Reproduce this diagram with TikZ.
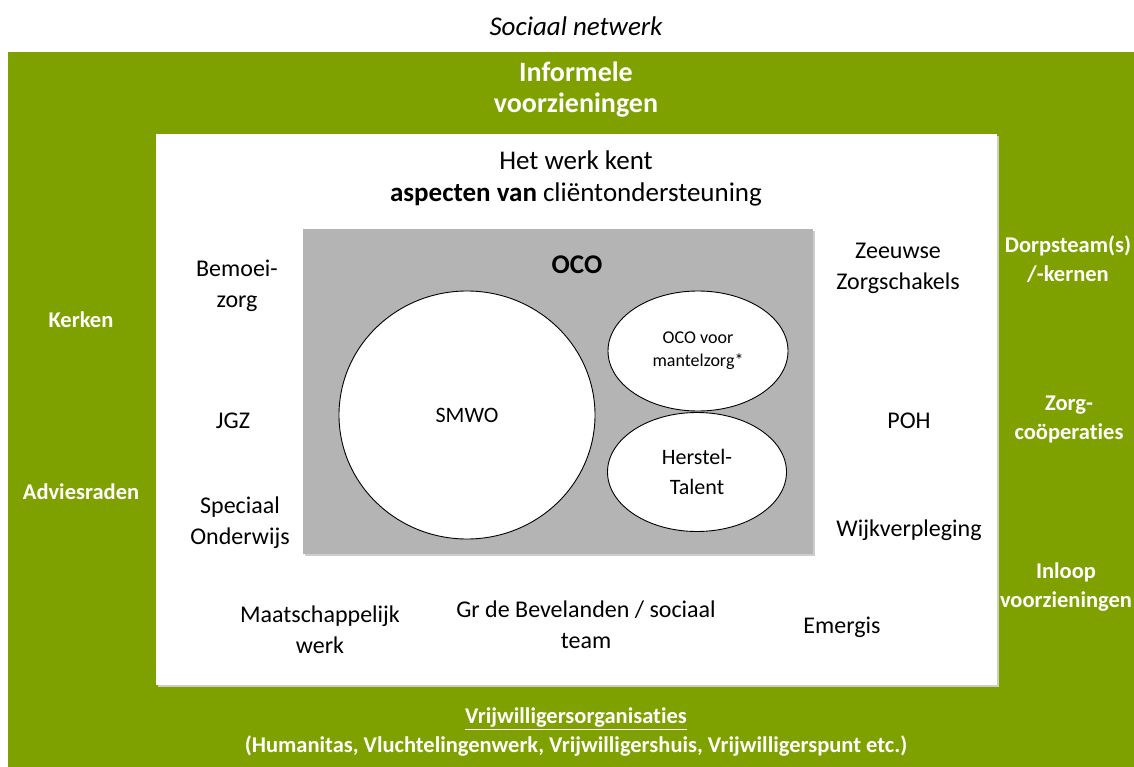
\documentclass[tikz,border=0pt]{standalone}
\usepackage{fontspec}
\setmainfont[Ligatures=NoCommon]{Carlito}
\usetikzlibrary{shapes.geometric}
\definecolor{grn}{RGB}{127,161,0}
\definecolor{gry}{RGB}{180,180,180}
\definecolor{shd}{RGB}{205,205,205}
\begin{document}
\begin{tikzpicture}[x=1pt,y=-1pt,
  lbl/.style={font=\fontsize{24}{31}\selectfont, align=center, inner sep=0pt},
  big/.style={font=\fontsize{27}{32}\selectfont, align=center, inner sep=0pt},
  glbl/.style={font=\bfseries\fontsize{22.5}{29}\selectfont, text=white, align=center, inner sep=0pt},
  bub/.style={ellipse, draw=black, line width=0.9pt, fill=white, inner sep=0pt}]
\useasboundingbox (0,0) rectangle (1134,767);
\begin{scope}
  \clip (0,0) rectangle (1134,767);
  \fill[grn] (8,52) rectangle (1150,780);
  % white inner box with faint shadow
  \fill[shd] (158,136) rectangle (999,687);
  \fill[white] (156,134) rectangle (997,685);
  % gray OCO box
  \fill[shd] (305,231) rectangle (815,556);
  \fill[gry] (303,229) rectangle (813,554);

  \node[bub, minimum width=256pt, minimum height=248pt, font=\fontsize{22}{28}\selectfont] (smwo) at (467,415) {SMWO};
  \node[bub, minimum width=180pt, minimum height=120pt, font=\fontsize{18}{23}\selectfont, align=center] (mz) at (698,351) {OCO voor\\mantelzorg*};
  \node[bub, minimum width=179pt, minimum height=119pt, font=\fontsize{22}{30}\selectfont, align=center] (ht) at (697,472) {Herstel-\\Talent};

  \node[font=\itshape\fontsize{27}{30}\selectfont, inner sep=0pt] (title) at (576,26) {Sociaal netwerk};
  \node[glbl, font=\bfseries\fontsize{28}{31}\selectfont] (inf) at (576,90) {Informele\\voorzieningen};
  \node[big] (het) at (576,178) {Het werk kent\\\textbf{aspecten van} cliëntondersteuning};
  \node[big, font=\bfseries\fontsize{27}{32}\selectfont] (oco) at (577,265) {OCO};

  \node[lbl] (bem) at (237,286) {Bemoei-\\zorg};
  \node[lbl] (jgz) at (233,421) {JGZ};
  \node[lbl] (spec) at (240,523) {Speciaal\\Onderwijs};
  \node[lbl] (zeeuw) at (898,268) {Zeeuwse\\Zorgschakels};
  \node[lbl] (poh) at (909,421) {POH};
  \node[lbl] (wijk) at (909,530) {Wijkverpleging};
  \node[lbl] (maat) at (320,630) {Maatschappelijk\\werk};
  \node[lbl] (gr) at (586,625) {Gr de Bevelanden / sociaal\\team};
  \node[lbl] (emer) at (842,627) {Emergis};

  \node[glbl] (kerk) at (81,320) {Kerken};
  \node[glbl] (advies) at (81,492) {Adviesraden};
  \node[glbl] (dorp) at (1068,259) {Dorpsteam(s)\\/-kernen};
  \node[glbl] (zorgc) at (1069,419) {Zorg-\\coöperaties};
  \node[glbl] (inloop) at (1066,587) {Inloop\\voorzieningen};
  \node[glbl] (vrij) at (576,732) {\underline{Vrijwilligersorganisaties}\\(Humanitas, Vluchtelingenwerk, Vrijwilligershuis, Vrijwilligerspunt etc.)};
\end{scope}
\end{tikzpicture}
\end{document}
